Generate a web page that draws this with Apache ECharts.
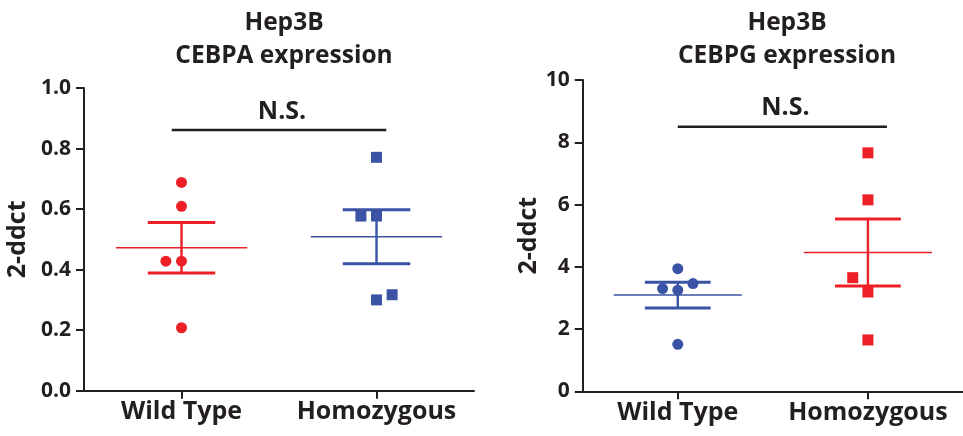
<!DOCTYPE html>
<html>
<head>
<meta charset="utf-8">
<script src="https://cdn.jsdelivr.net/npm/echarts@6/dist/echarts.min.js"></script>
<style>
html,body{margin:0;padding:0;background:#fff;}
#chart{width:963px;height:436px;}
</style>
</head>
<body>
<div id="chart"></div>
<script>
// ---- data ----
const categories = ['Wild Type', 'Homozygous'];
const titles = ['Hep3B\nCEBPA expression', 'Hep3B\nCEBPG expression'];
const yTicksA = [0, 0.2, 0.4, 0.6, 0.8, 1.0];
const yTicksG = [0, 2, 4, 6, 8, 10];

// CEBPA panel
const cebpaWT = [0.688, 0.609, 0.428, 0.428, 0.208];
const cebpaWTJitter = [0, 0, -0.08, 0, 0];
const cebpaHomo = [0.771, 0.577, 0.577, 0.300, 0.317];
const cebpaHomoJitter = [0, -0.08, 0, 0, 0.08];
// CEBPG panel
const cebpgWT = [3.94, 3.25, 3.30, 3.46, 1.51];
const cebpgWTJitter = [0, 0, -0.08, 0.08, 0];
const cebpgHomo = [7.66, 6.15, 3.65, 3.19, 1.65];
const cebpgHomoJitter = [0, 0, -0.08, 0, 0];

// significance brackets: [xFrom, xTo, y]
const bracketA = [-0.05, 1.05, 0.861];
const bracketG = [0.0, 1.10, 8.5];
const sigLabel = 'N.S.';

// ---- styling ----
const RED = '#ED2027';
const BLUE = '#3A53A4';
const INK = '#231F20';
const FONT = '"Open Sans", sans-serif';

function meanSem(arr) {
  const n = arr.length;
  const m = arr.reduce((a, b) => a + b, 0) / n;
  const v = arr.reduce((a, b) => a + (b - m) * (b - m), 0) / (n - 1);
  return [m, Math.sqrt(v) / Math.sqrt(n)];
}
function pts(vals, jit, idx) {
  return vals.map((v, i) => [idx + jit[i], v]);
}

function errSeries(gi, items) {
  return {
    type: 'custom', xAxisIndex: gi * 2 + 1, yAxisIndex: gi, clip: false, z: 2,
    data: items.map(it => [it.idx, it.m, it.s]),
    renderItem: function (params, api) {
      const x = api.value(0), m = api.value(1), s = api.value(2);
      const color = items[params.dataIndex].color;
      const unit = api.size([1, 0])[0];
      const c = api.coord([x, m]);
      const t = api.coord([x, m + s]);
      const b = api.coord([x, m - s]);
      const hw = 0.337 * unit, cw = 0.173 * unit;
      return {
        type: 'group',
        children: [
          {type: 'line', shape: {x1: c[0] - hw, y1: c[1], x2: c[0] + hw, y2: c[1]}, style: {stroke: color, lineWidth: 1.6}},
          {type: 'line', shape: {x1: t[0], y1: t[1], x2: b[0], y2: b[1]}, style: {stroke: color, lineWidth: 2.4}},
          {type: 'line', shape: {x1: t[0] - cw, y1: t[1], x2: t[0] + cw, y2: t[1]}, style: {stroke: color, lineWidth: 3}},
          {type: 'line', shape: {x1: b[0] - cw, y1: b[1], x2: b[0] + cw, y2: b[1]}, style: {stroke: color, lineWidth: 3}}
        ]
      };
    }
  };
}

function bracketSeries(gi, br) {
  return {
    type: 'custom', xAxisIndex: gi * 2 + 1, yAxisIndex: gi, clip: false, z: 3,
    data: [br],
    renderItem: function (params, api) {
      const p0 = api.coord([api.value(0), api.value(2)]);
      const p1 = api.coord([api.value(1), api.value(2)]);
      return {
        type: 'group',
        children: [
          {type: 'line', shape: {x1: p0[0], y1: p0[1], x2: p1[0], y2: p1[1]}, style: {stroke: INK, lineWidth: 2.5}},
          {type: 'text', x: (p0[0] + p1[0]) / 2 + 3, y: p0[1] - 6,
            style: {text: sigLabel, fill: INK, font: 'bold 25px ' + FONT, textAlign: 'center', textVerticalAlign: 'bottom'}}
        ]
      };
    }
  };
}

function scatter(gi, data, color, symbol) {
  return {
    type: 'scatter', xAxisIndex: gi * 2 + 1, yAxisIndex: gi, z: 4,
    symbol: symbol, symbolSize: 11, itemStyle: {color: color, opacity: 1},
    data: data, silent: true
  };
}

function catAxis(gi) {
  return {
    type: 'category', gridIndex: gi, data: categories, boundaryGap: true,
    axisLine: {onZero: false, lineStyle: {color: INK, width: 2}},
    axisTick: {show: true, alignWithLabel: true, length: 8, lineStyle: {color: INK, width: 2}},
    axisLabel: {interval: 0, color: INK, fontFamily: FONT, fontWeight: 'bold', fontSize: 25, margin: 9},
    splitLine: {show: false}
  };
}
function valXAxis(gi) {
  return {type: 'value', gridIndex: gi, min: -0.5, max: 1.5, show: false, splitLine: {show: false}};
}
function yAxis(gi, ticks, dec) {
  return {
    type: 'value', gridIndex: gi, min: ticks[0], max: ticks[ticks.length - 1],
    interval: ticks[1] - ticks[0],
    name: '2-ddct', nameLocation: 'middle', nameRotate: 90,
    nameGap: gi === 0 ? 54 : 32,
    nameTextStyle: {color: INK, fontFamily: FONT, fontWeight: 'bold', fontSize: 25},
    axisLine: {show: true, onZero: false, lineStyle: {color: INK, width: 2}},
    axisTick: {show: true, length: 8, lineStyle: {color: INK, width: 2}},
    axisLabel: {color: INK, fontFamily: FONT, fontWeight: 'bold', fontSize: 21, margin: 13,
      formatter: v => v.toFixed(dec)},
    splitLine: {show: false}
  };
}

const msA_WT = meanSem(cebpaWT), msA_H = meanSem(cebpaHomo);
const msG_WT = meanSem(cebpgWT), msG_H = meanSem(cebpgHomo);

const titleStyle = {color: INK, fontFamily: FONT, fontWeight: 'bold', fontSize: 24.5, lineHeight: 33};

const option = {
  animation: false,
  backgroundColor: '#fff',
  title: [
    {text: titles[0], left: 279, top: 2, textAlign: 'center', textStyle: titleStyle},
    {text: titles[1], left: 782, top: 2, textAlign: 'center', textStyle: titleStyle}
  ],
  grid: [
    {left: 84, top: 88, width: 390, height: 302.7},
    {left: 582.7, top: 80, width: 388, height: 311.3}
  ],
  xAxis: [catAxis(0), valXAxis(0), catAxis(1), valXAxis(1)],
  yAxis: [yAxis(0, yTicksA, 1), yAxis(1, yTicksG, 0)],
  series: [
    errSeries(0, [{idx: 0, m: msA_WT[0], s: msA_WT[1], color: RED}, {idx: 1, m: msA_H[0], s: msA_H[1], color: BLUE}]),
    scatter(0, pts(cebpaWT, cebpaWTJitter, 0), RED, 'circle'),
    scatter(0, pts(cebpaHomo, cebpaHomoJitter, 1), BLUE, 'rect'),
    bracketSeries(0, bracketA),
    errSeries(1, [{idx: 0, m: msG_WT[0], s: msG_WT[1], color: BLUE}, {idx: 1, m: msG_H[0], s: msG_H[1], color: RED}]),
    scatter(1, pts(cebpgWT, cebpgWTJitter, 0), BLUE, 'circle'),
    scatter(1, pts(cebpgHomo, cebpgHomoJitter, 1), RED, 'rect'),
    bracketSeries(1, bracketG)
  ]
};

const chart = echarts.init(document.getElementById('chart'), null, {renderer: 'canvas'});
chart.setOption(option);
</script>
</body>
</html>
